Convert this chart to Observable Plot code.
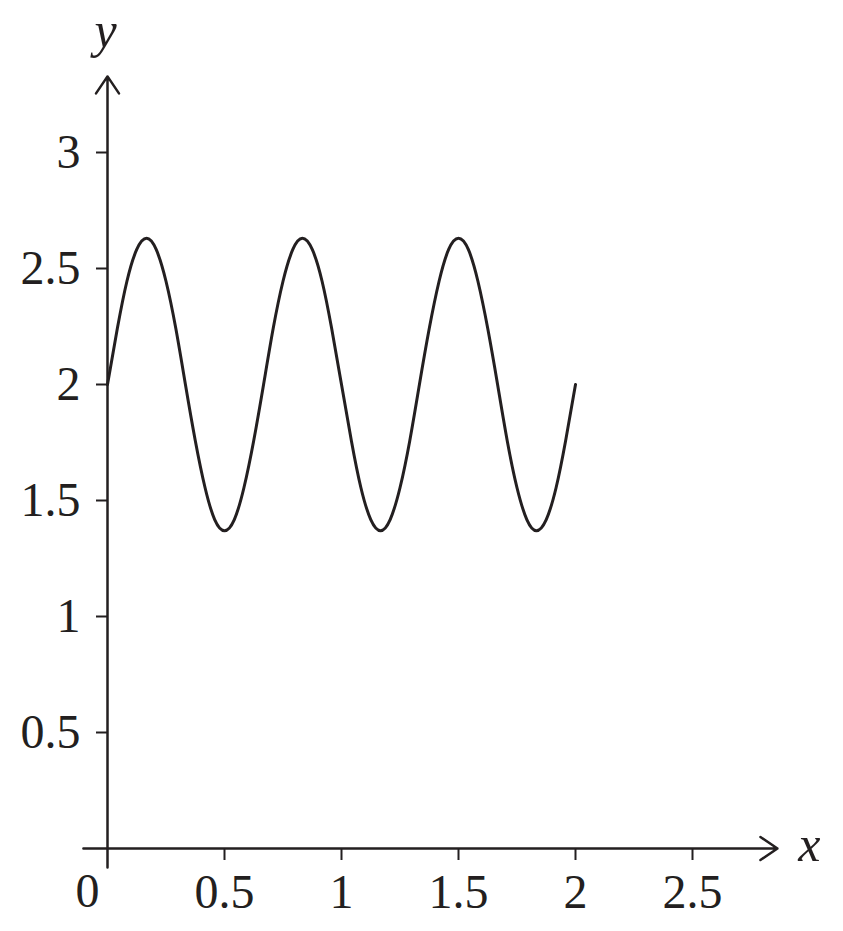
<!DOCTYPE html>
<html>
<head>
<meta charset="utf-8">
<script src="https://cdn.jsdelivr.net/npm/d3@7"></script>
<script src="https://cdn.jsdelivr.net/npm/@observablehq/plot@0.6"></script>
<style>
  html, body { margin: 0; padding: 0; background: #fff; }
</style>
</head>
<body>
<div id="chart"></div>
<script>
// Curve samples (x, y)
const curveX = [0, 0.042, 0.083, 0.125, 0.167, 0.208, 0.25, 0.292, 0.333, 0.375, 0.417, 0.458,
  0.5, 0.542, 0.583, 0.625, 0.667, 0.708, 0.75, 0.792, 0.833, 0.875, 0.917, 0.958,
  1, 1.042, 1.083, 1.125, 1.167, 1.208, 1.25, 1.292, 1.333, 1.375, 1.417, 1.458,
  1.5, 1.542, 1.583, 1.625, 1.667, 1.708, 1.75, 1.792, 1.833, 1.875, 1.917, 1.958, 2];
const curveY = [2, 2.241, 2.445, 2.582, 2.63, 2.582, 2.445, 2.241, 2, 1.759, 1.555, 1.418,
  1.37, 1.418, 1.555, 1.759, 2, 2.241, 2.445, 2.582, 2.63, 2.582, 2.445, 2.241,
  2, 1.759, 1.555, 1.418, 1.37, 1.418, 1.555, 1.759, 2, 2.241, 2.445, 2.582,
  2.63, 2.582, 2.445, 2.241, 2, 1.759, 1.555, 1.418, 1.37, 1.418, 1.555, 1.759, 2];

const xTicks = [0.5, 1, 1.5, 2, 2.5];
const xTickLabels = ["0.5", "1", "1.5", "2", "2.5"];
const yTicks = [0.5, 1, 1.5, 2, 2.5, 3];
const yTickLabels = ["0.5", "1", "1.5", "2", "2.5", "3"];
const originLabel = ["0"];
const axisLabels = ["x", "y"];

const curve = curveX.map((x, i) => ({x, y: curveY[i]}));
const ink = "#231f20";
const font = "'Liberation Serif', 'Times New Roman', serif";

const chart = Plot.plot({
  width: 843,
  height: 931,
  marginLeft: 107,
  marginRight: 34,
  marginTop: 36,
  marginBottom: 83,
  style: {fontFamily: font, color: ink, background: "#fff"},
  x: {domain: [0, 3]},
  y: {domain: [0, 3.5]},
  marks: [
    Plot.axisX({ticks: xTicks, tickFormat: (d, i) => xTickLabels[i], tickSize: 12, tickPadding: 13,
      fontSize: 48, strokeWidth: 2, label: null}),
    Plot.axisY({ticks: yTicks, tickFormat: (d, i) => yTickLabels[i], tickSize: 11, tickPadding: 16,
      fontSize: 48, strokeWidth: 2, label: null}),
    Plot.text(originLabel, {x: 0, y: 0, text: d => d, dx: -20, dy: 43, fontSize: 48, fill: ink}),
    // axis lines with arrow heads
    Plot.arrow([{x1: -0.103, y1: 0, x2: 2.863, y2: 0}], {x1: "x1", y1: "y1", x2: "x2", y2: "y2",
      headLength: 12.3, headAngle: 68, strokeWidth: 2.5, stroke: ink}),
    Plot.arrow([{x1: 0, y1: -0.082, x2: 0, y2: 3.328}], {x1: "x1", y1: "y1", x2: "x2", y2: "y2",
      headLength: 12.3, headAngle: 68, strokeWidth: 2.5, stroke: ink}),
    Plot.text([axisLabels[0]], {x: 2.863, y: 0, text: d => d, dx: 32, dy: -4, fontSize: 50,
      fontStyle: "italic", fill: ink}),
    Plot.text([axisLabels[1]], {x: 0, y: 3.5, text: d => d, dx: -2, dy: -6, fontSize: 50,
      fontStyle: "italic", fill: ink}),
    Plot.line(curve, {x: "x", y: "y", curve: "natural", stroke: ink, strokeWidth: 3})
  ]
});
document.getElementById("chart").appendChild(chart);
</script>
</body>
</html>
